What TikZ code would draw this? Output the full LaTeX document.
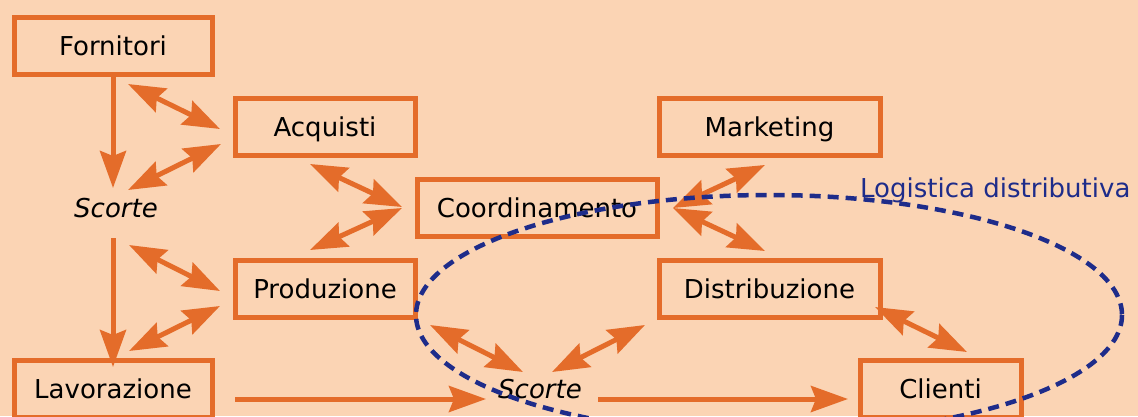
\documentclass[tikz,border=0pt]{standalone}
\usepackage{fontspec}
\setmainfont{DejaVu Sans}
\usetikzlibrary{arrows.meta}
\definecolor{bg}{RGB}{251,212,180}
\definecolor{org}{RGB}{228,108,42}
\definecolor{navy}{RGB}{30,44,138}
\begin{document}
\begin{tikzpicture}[x=1pt,y=-1pt,
  lbl/.style={inner sep=0pt, text height=19pt, text depth=0pt, font=\fontsize{26}{31}\selectfont},
  box/.style={lbl, draw=org, line width=5pt, minimum height=57pt},
  scorte/.style={lbl, font=\fontsize{26}{31}\selectfont\itshape},
  one/.style={draw=org, line width=5pt, -{Stealth[length=37pt,width=26pt,inset=5pt]}},
  dbl/.style={draw=org, line width=5pt, {Stealth[length=37pt,width=26pt,inset=5pt]}-{Stealth[length=37pt,width=26pt,inset=5pt]}},
  logi/.style={draw=navy, line width=4.5pt, dash pattern=on 11pt off 7pt}
]
\fill[bg] (0,0) rectangle (1138,416);
\useasboundingbox (0,0) rectangle (1138,416);
\clip (0,0) rectangle (1138,416);

% boxes
\node[box, minimum width=198pt] (forn) at (113,45.5) {Fornitori};
\node[box, minimum width=180pt] (acq) at (325,126.5) {Acquisti};
\node[box, minimum width=240pt] (coord) at (537,207.5) {Coordinamento};
\node[box, minimum width=221pt] (mkt) at (769.5,126.5) {Marketing};
\node[box, minimum width=180pt] (prod) at (325,288.5) {Produzione};
\node[box, minimum width=221pt] (distr) at (769.5,288.5) {Distribuzione};
\node[box, minimum width=198pt] (lav) at (113,389) {Lavorazione};
\node[box, minimum width=161pt] (cli) at (940.5,389) {Clienti};
\node[scorte] (sc1) at (116,208) {Scorte};
\node[scorte] (sc2) at (540,389) {Scorte};
\node[lbl, anchor=base west, text=navy, text height=, text depth=] (logtxt) at (860,197) {Logistica distributiva};

% connector end points
\coordinate (a1s) at (113,77);   \coordinate (a1e) at (113,188);
\coordinate (a2s) at (128,84);   \coordinate (a2e) at (220,129);
\coordinate (a3s) at (128,190);  \coordinate (a3e) at (221,144);
\coordinate (a4s) at (310,164);  \coordinate (a4e) at (402,207);
\coordinate (a5s) at (310,250);  \coordinate (a5e) at (402,208);
\coordinate (a6s) at (113,238);  \coordinate (a6e) at (113,367);
\coordinate (a7s) at (129,245);  \coordinate (a7e) at (220,291);
\coordinate (a8s) at (129,351);  \coordinate (a8e) at (220,306);
\coordinate (a9s) at (430,325);  \coordinate (a9e) at (523,372);
\coordinate (a10s) at (552,372); \coordinate (a10e) at (645,325);
\coordinate (a11s) at (235,399); \coordinate (a11e) at (486,399);
\coordinate (a12s) at (598,399); \coordinate (a12e) at (848,399);
\coordinate (a13s) at (673,208); \coordinate (a13e) at (765,165);
\coordinate (a14s) at (673,208); \coordinate (a14e) at (765,251);
\coordinate (a15s) at (875,307); \coordinate (a15e) at (967,352);

% connectors
\draw[one] (a1s) -- (a1e);
\draw[dbl] (a2s) -- (a2e);
\draw[dbl] (a3s) -- (a3e);
\draw[dbl] (a4s) -- (a4e);
\draw[dbl] (a5s) -- (a5e);
\draw[one] (a6s) -- (a6e);
\draw[dbl] (a7s) -- (a7e);
\draw[dbl] (a8s) -- (a8e);
\draw[dbl] (a9s) -- (a9e);
\draw[dbl] (a10s) -- (a10e);
\draw[one] (a11s) -- (a11e);
\draw[one] (a12s) -- (a12e);
\draw[dbl] (a13s) -- (a13e);
\draw[dbl] (a14s) -- (a14e);
\draw[dbl] (a15s) -- (a15e);

% dashed ellipse
\draw[logi] (769,315) ellipse [x radius=353, y radius=120];
\end{tikzpicture}
\end{document}
